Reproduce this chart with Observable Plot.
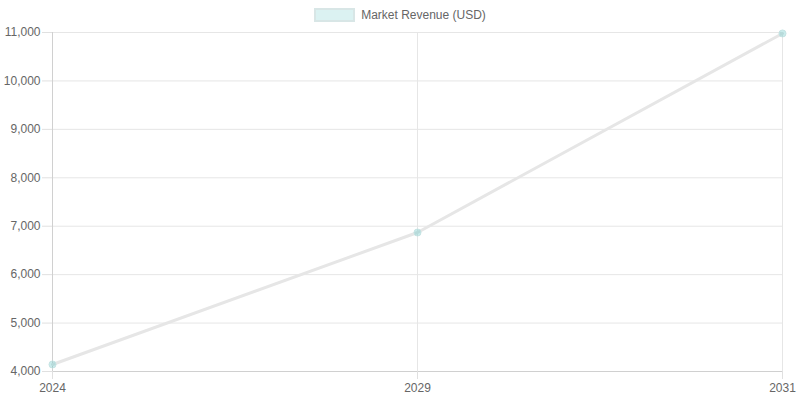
<!DOCTYPE html>
<html>
<head>
<meta charset="utf-8">
<script src="https://cdn.jsdelivr.net/npm/d3@7"></script>
<script src="https://cdn.jsdelivr.net/npm/@observablehq/plot@0.6"></script>
<style>
  html, body { margin: 0; padding: 0; background: #fff; }
  body { width: 800px; height: 400px; overflow: hidden; font-family: "Liberation Sans", Arial, sans-serif; }
  #legend { height: 26px; display: flex; justify-content: center; align-items: flex-start; padding-top: 0; box-sizing: border-box; }
  #legend .item { display: flex; align-items: center; margin-top: 8px; font-size: 12px; color: #666; }
  #legend .swatch { width: 37px; height: 10px; background: rgba(75,192,192,0.2); border: 2px solid #d8e6e6; margin-right: 6px; }
</style>
</head>
<body>
<div id="legend"><div class="item"><div class="swatch"></div><span>Market Revenue (USD)</span></div></div>
<div id="chart"></div>
<script>
const years = ["2024", "2029", "2031"];
const revenue = [4145, 6870, 10980];
const yTicks = [4000, 5000, 6000, 7000, 8000, 9000, 10000, 11000];
const seriesName = "Market Revenue (USD)";

const data = years.map((y, i) => ({year: y, value: revenue[i]}));

const chart = Plot.plot({
  width: 800,
  height: 374,
  marginLeft: 52,
  marginRight: 18,
  marginTop: 6,
  marginBottom: 29,
  style: {fontFamily: "'Liberation Sans', Arial, sans-serif", fontSize: "12px", color: "#666", background: "#fff"},
  x: {type: "point", domain: years, padding: 0, label: null},
  y: {domain: [4000, 11000], label: null},
  marks: [
    Plot.ruleY(yTicks, {stroke: "#e6e6e6", strokeWidth: 1}),
    Plot.ruleX(years, {stroke: "#e6e6e6", strokeWidth: 1}),
    Plot.ruleX([years[0]], {stroke: "#d0d0d0", strokeWidth: 1}),
    Plot.ruleY([4000], {stroke: "#d0d0d0", strokeWidth: 1}),
    Plot.axisY({ticks: yTicks, tickFormat: d3.format(","), tickSize: 10, tickPadding: 2, stroke: "#e0e0e0", fill: "#666", label: null}),
    Plot.axisX({ticks: years, tickSize: 8, tickPadding: 4, stroke: "#e0e0e0", fill: "#666", label: null}),
    Plot.line(data, {x: "year", y: "value", stroke: "#e6e6e6", strokeWidth: 3, curve: "linear"}),
    Plot.dot(data, {x: "year", y: "value", r: 3.5, fill: "rgba(75,192,192,0.3)", stroke: "#c5e3e3", strokeWidth: 1})
  ]
});
document.getElementById("chart").appendChild(chart);
</script>
</body>
</html>
